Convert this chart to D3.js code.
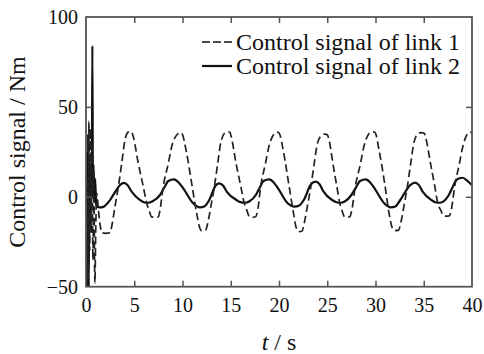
<!DOCTYPE html>
<html><head><meta charset="utf-8">
<script src="https://cdn.jsdelivr.net/npm/d3@7"></script>
<style>
html,body{margin:0;padding:0;background:#fff;}
svg text{font-family:"Liberation Serif","Times New Roman",Tinos;}
</style></head>
<body>
<svg id="chart" width="484" height="354" font-family="Liberation Serif"></svg>
<script>
// ---- data ----
const xTicks = [0, 5, 10, 15, 20, 25, 30, 35, 40];
const yTicks = [-50, 0, 50, 100];
const seriesNames = ["Control signal of link 1", "Control signal of link 2"];

const link1T = [0,0.06,0.14,0.22,0.3,0.38,0.46,0.54,0.62,0.72,0.8,0.92,1.02,1.1,1.3,1.5,
  1.63,2.05,2.49,2.66,3.0,3.35,3.7,4.04,4.38,4.55,4.73,4.9,5.42,5.94,6.29,6.53,6.8,7.15,7.5,7.67,8.0,8.53,8.88,9.57,9.75,9.92,10.43,10.95,11.47,11.8,12.0,12.4,
  12.6,12.95,13.3,13.65,14.0,14.5,14.7,14.9,15.05,15.55,16.05,16.4,16.65,16.95,17.3,17.6,17.8,18.1,18.6,18.95,19.6,19.8,20.0,20.5,21.0,21.5,21.8,22.05,22.4,
  22.6,22.95,23.3,23.65,24.0,24.5,24.75,25.0,25.15,25.6,26.0,26.3,26.55,26.8,27.1,27.35,27.55,27.9,28.45,28.8,29.45,29.7,29.95,30.4,30.95,31.4,31.75,32.0,32.4,
  32.6,32.95,33.3,33.65,34.0,34.45,34.75,35.05,35.2,35.7,36.15,36.45,36.75,37.05,37.35,37.65,37.85,38.2,38.7,39.05,39.6,39.8,40];
const link1V = [0,-52,10,-45,42,-30,38,-20,30,-35,15,-48,-15,2,-8,-17,
  -20,-20.3,-20,-16.6,-5.5,5.6,18.6,31.6,36,36.3,36,33.4,18.6,5.6,-3.6,-7.3,-11.2,-11.4,-11.2,-7.3,5.6,18.6,27.9,35.3,35.7,35.3,24.2,7.5,-9.2,-17.5,-19,-18.5,
  -15,-5,5.6,18.6,31,36,36.2,36,33.4,18.6,5.6,-3.6,-7.3,-11.2,-11.4,-11,-7.3,5.6,18.6,27.9,35.5,36,35.5,24,7.5,-9,-17.5,-19.4,-19,
  -15,-5,5.6,18.6,30,34.5,34.9,34.5,32.5,18,5.6,-3.6,-8,-11.2,-11.4,-11,-7.3,5.6,18.6,28,35.8,36.2,35.8,25,7.5,-9,-17.5,-18.8,-18.5,
  -15,-5,5.6,18.6,30.5,35.3,35.7,35.3,33,18.6,5.6,-3.6,-7.3,-10.5,-10.8,-10.5,-7.3,5.6,18.6,28,35.5,36,35.5];

const link2T = [0,0.04,0.1,0.16,0.22,0.28,0.36,0.44,0.52,0.6,0.66,0.72,0.78,0.86,0.95,1.05,1.2,
  1.45,1.8,2.49,3.0,3.52,3.94,4.3,4.73,5.6,6.0,6.45,6.9,7.67,8.1,8.53,9.12,9.6,10.08,11.1,11.8,
  12.3,12.8,13.4,13.8,14.2,14.6,15.6,16.0,16.5,16.95,17.6,18.0,18.4,19.0,19.45,19.9,20.9,21.6,
  22.1,22.6,23.3,23.8,24.2,24.6,25.5,25.95,26.4,26.85,27.5,27.95,28.4,29.0,29.45,29.9,30.9,31.6,
  32.1,32.6,33.6,34.1,34.5,34.9,35.8,36.2,36.6,37.05,37.6,38.0,38.4,39.0,39.6,40];
const link2V = [0,-55,25,-50,35,-52,20,-20,15,5,84,0,18,-3,10,-4,-5.5,
  -5.9,-5.6,-1.8,2.5,6.6,7.8,6.5,2.9,-1.8,-3.0,-3.3,-2.5,1.0,5,8.8,9.7,8,4.7,-3.6,-5.9,
  -5.2,-1.5,6,7.5,6.3,2.8,-1.8,-3.0,-3.3,-2.5,1,5,8.8,9.7,8,4.7,-3.6,-5.5,
  -4.8,-1.5,6.8,8.4,7,3,-1.8,-3.0,-3.3,-2.5,1,5,8.8,9.7,8,4.7,-3.6,-5.9,
  -5.2,-1.5,6.5,7.9,6.5,2.8,-1.8,-3.0,-3.3,-2.5,1,5.5,9.5,10.6,8.5,6.5];

// ---- layout ----
const FAM = "Liberation Serif";
const svg = d3.select("#chart");
const L = 86, R = 472, T = 17, B = 286.7;
const x = d3.scaleLinear().domain([0, 40]).range([L, R]);
const y = d3.scaleLinear().domain([-50, 100]).range([B, T]);
const frameColor = "#555";
const tickLen = 6;

function serif(sel, size) {
  return sel.attr("font-family", FAM).style("font-family", `"${FAM}"`).attr("font-size", size);
}

svg.append("defs").append("clipPath").attr("id", "clip")
  .append("rect").attr("x", L).attr("y", T).attr("width", R - L).attr("height", B - T);

const line = d3.line().x(d => x(d[0])).y(d => y(d[1])).curve(d3.curveMonotoneX);
const data1 = link1T.map((t, i) => [t, link1V[i]]);
const data2 = link2T.map((t, i) => [t, link2V[i]]);

const plot = svg.append("g").attr("clip-path", "url(#clip)");
plot.append("path").datum(data2).attr("d", line)
  .attr("fill", "none").attr("stroke", "#111").attr("stroke-width", 2.2);
plot.append("path").datum(data1).attr("d", line)
  .attr("fill", "none").attr("stroke", "#222").attr("stroke-width", 1.7)
  .attr("stroke-dasharray", "7.5,4");

// axes with inward ticks
function styleAxis(g) {
  serif(g, 20);
  g.select(".domain").remove();
  g.selectAll(".tick line").attr("stroke", frameColor).attr("stroke-width", 1.5);
  serif(g.selectAll(".tick text").attr("fill", "#111"), 20);
}
const xAxis = svg.append("g").attr("transform", `translate(0,${B})`)
  .call(d3.axisBottom(x).tickValues(xTicks).tickSizeInner(-tickLen).tickSizeOuter(0).tickPadding(11).tickFormat(d3.format("d")));
styleAxis(xAxis);
xAxis.selectAll(".tick").filter(d => d === 0 || d === 40).select("line").remove();

const xTop = svg.append("g").attr("transform", `translate(0,${T})`)
  .call(d3.axisTop(x).tickValues(xTicks.filter(d => d > 0 && d < 40)).tickSizeInner(-tickLen).tickSizeOuter(0).tickFormat(""));
styleAxis(xTop);

const yAxis = svg.append("g").attr("transform", `translate(${L},0)`)
  .call(d3.axisLeft(y).tickValues(yTicks).tickSizeInner(-tickLen).tickSizeOuter(0).tickPadding(8).tickFormat(d3.format("d")));
styleAxis(yAxis);
yAxis.selectAll(".tick").filter(d => d === -50 || d === 100).select("line").remove();

const yRight = svg.append("g").attr("transform", `translate(${R},0)`)
  .call(d3.axisRight(y).tickValues(yTicks.filter(d => d > -50 && d < 100)).tickSizeInner(-tickLen).tickSizeOuter(0).tickFormat(""));
styleAxis(yRight);

// frame
svg.append("rect").attr("x", L).attr("y", T).attr("width", R - L).attr("height", B - T)
  .attr("fill", "none").attr("stroke", frameColor).attr("stroke-width", 1.8);

// axis titles
serif(svg.append("text").attr("transform", `translate(25,152) rotate(-90)`)
  .attr("text-anchor", "middle").attr("fill", "#111"), 24)
  .text("Control signal / Nm");
const xl = serif(svg.append("text").attr("x", 279).attr("y", 350)
  .attr("text-anchor", "middle").attr("fill", "#111"), 24);
xl.append("tspan").attr("font-style", "italic").text("t");
xl.append("tspan").text(" / s");

// legend
const legend = svg.append("g");
const legY = [42, 66];
seriesNames.forEach((name, i) => {
  legend.append("line").attr("x1", 202).attr("x2", 232).attr("y1", legY[i]).attr("y2", legY[i])
    .attr("stroke", "#111").attr("stroke-width", i === 0 ? 1.6 : 2.2)
    .attr("stroke-dasharray", i === 0 ? "8,3" : null);
  serif(legend.append("text").attr("x", 236).attr("y", legY[i] + 8).attr("fill", "#111"), 24)
    .text(name);
});
</script>
</body></html>
